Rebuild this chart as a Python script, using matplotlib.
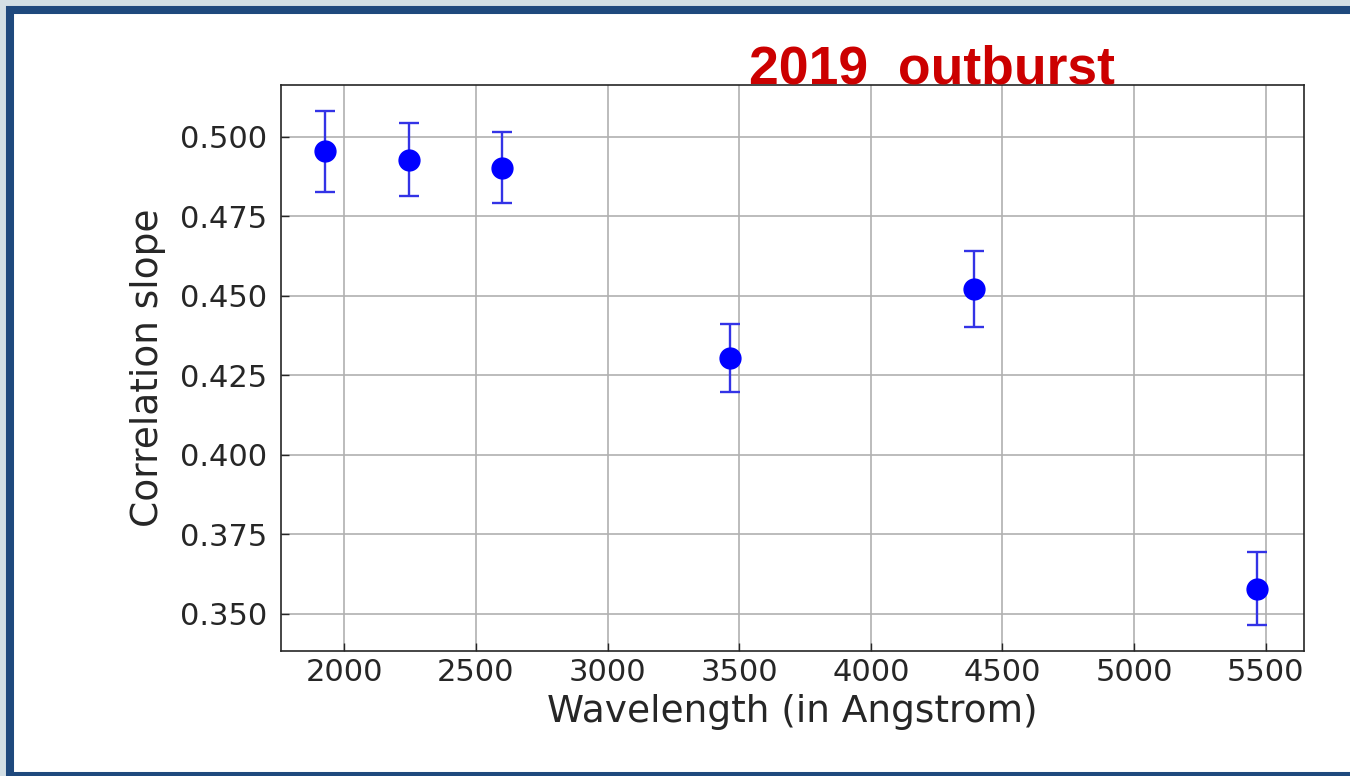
import matplotlib
matplotlib.use("Agg")
import matplotlib.pyplot as plt
from matplotlib.patches import Rectangle

# Swift/UVOT filters: effective wavelength vs. correlation slope
wavelength = [1928, 2246, 2600, 3465, 4392, 5468]
slope = [0.4954, 0.4928, 0.4903, 0.4305, 0.4522, 0.3579]
slope_err = [0.0127, 0.0115, 0.0111, 0.0107, 0.0120, 0.0115]
xticks = [2000, 2500, 3000, 3500, 4000, 4500, 5000, 5500]
yticks = [0.350, 0.375, 0.400, 0.425, 0.450, 0.475, 0.500]

W, H = 1350, 776
fig = plt.figure(figsize=(W / 100, H / 100), dpi=100)
fig.patch.set_facecolor("#d3dfe5")

# slide frame: white panel with a dark blue border
frame = Rectangle((10 / W, 0), 1.2, (H - 10) / H, transform=fig.transFigure,
                  facecolor="white", edgecolor="#1f497d", linewidth=5.8,
                  zorder=-10)
fig.patches.append(frame)

ax = fig.add_axes([281 / W, 125 / H, 1023 / W, 566 / H])
ax.set_facecolor("white")

ax.errorbar(wavelength, slope, yerr=slope_err, fmt="o", color="blue",
            ms=15, ecolor="#3333e6", elinewidth=1.7, capsize=7, capthick=1.7,
            zorder=3)

ax.set_xlim(1760, 5645)
ax.set_ylim(0.3383, 0.5163)
ax.set_xticks(xticks)
ax.set_yticks(yticks)
ax.set_yticklabels([f"{v:.3f}" for v in yticks])

ax.grid(True, color="#b0b0b0", linewidth=1.2)
ax.set_axisbelow(True)
ax.tick_params(direction="in", length=6, width=1, labelsize=22,
               labelcolor="#262626", color="#262626")
ax.tick_params(axis="x", pad=5)
ax.tick_params(axis="y", pad=10)
for sp in ax.spines.values():
    sp.set_linewidth(1.2)
    sp.set_color("#262626")

ax.set_xlabel("Wavelength (in Angstrom)", fontsize=27, color="#262626",
              labelpad=5)
ax.set_ylabel("Correlation slope", fontsize=27, color="#262626", labelpad=10)

fig.text(749 / W, (H - 83) / H, "2019  outburst", color="#cc0000",
         fontsize=38.5, fontweight="bold", family="Liberation Sans",
         ha="left", va="baseline", zorder=5)

fig.savefig("out.png", dpi=100, facecolor=fig.get_facecolor())
